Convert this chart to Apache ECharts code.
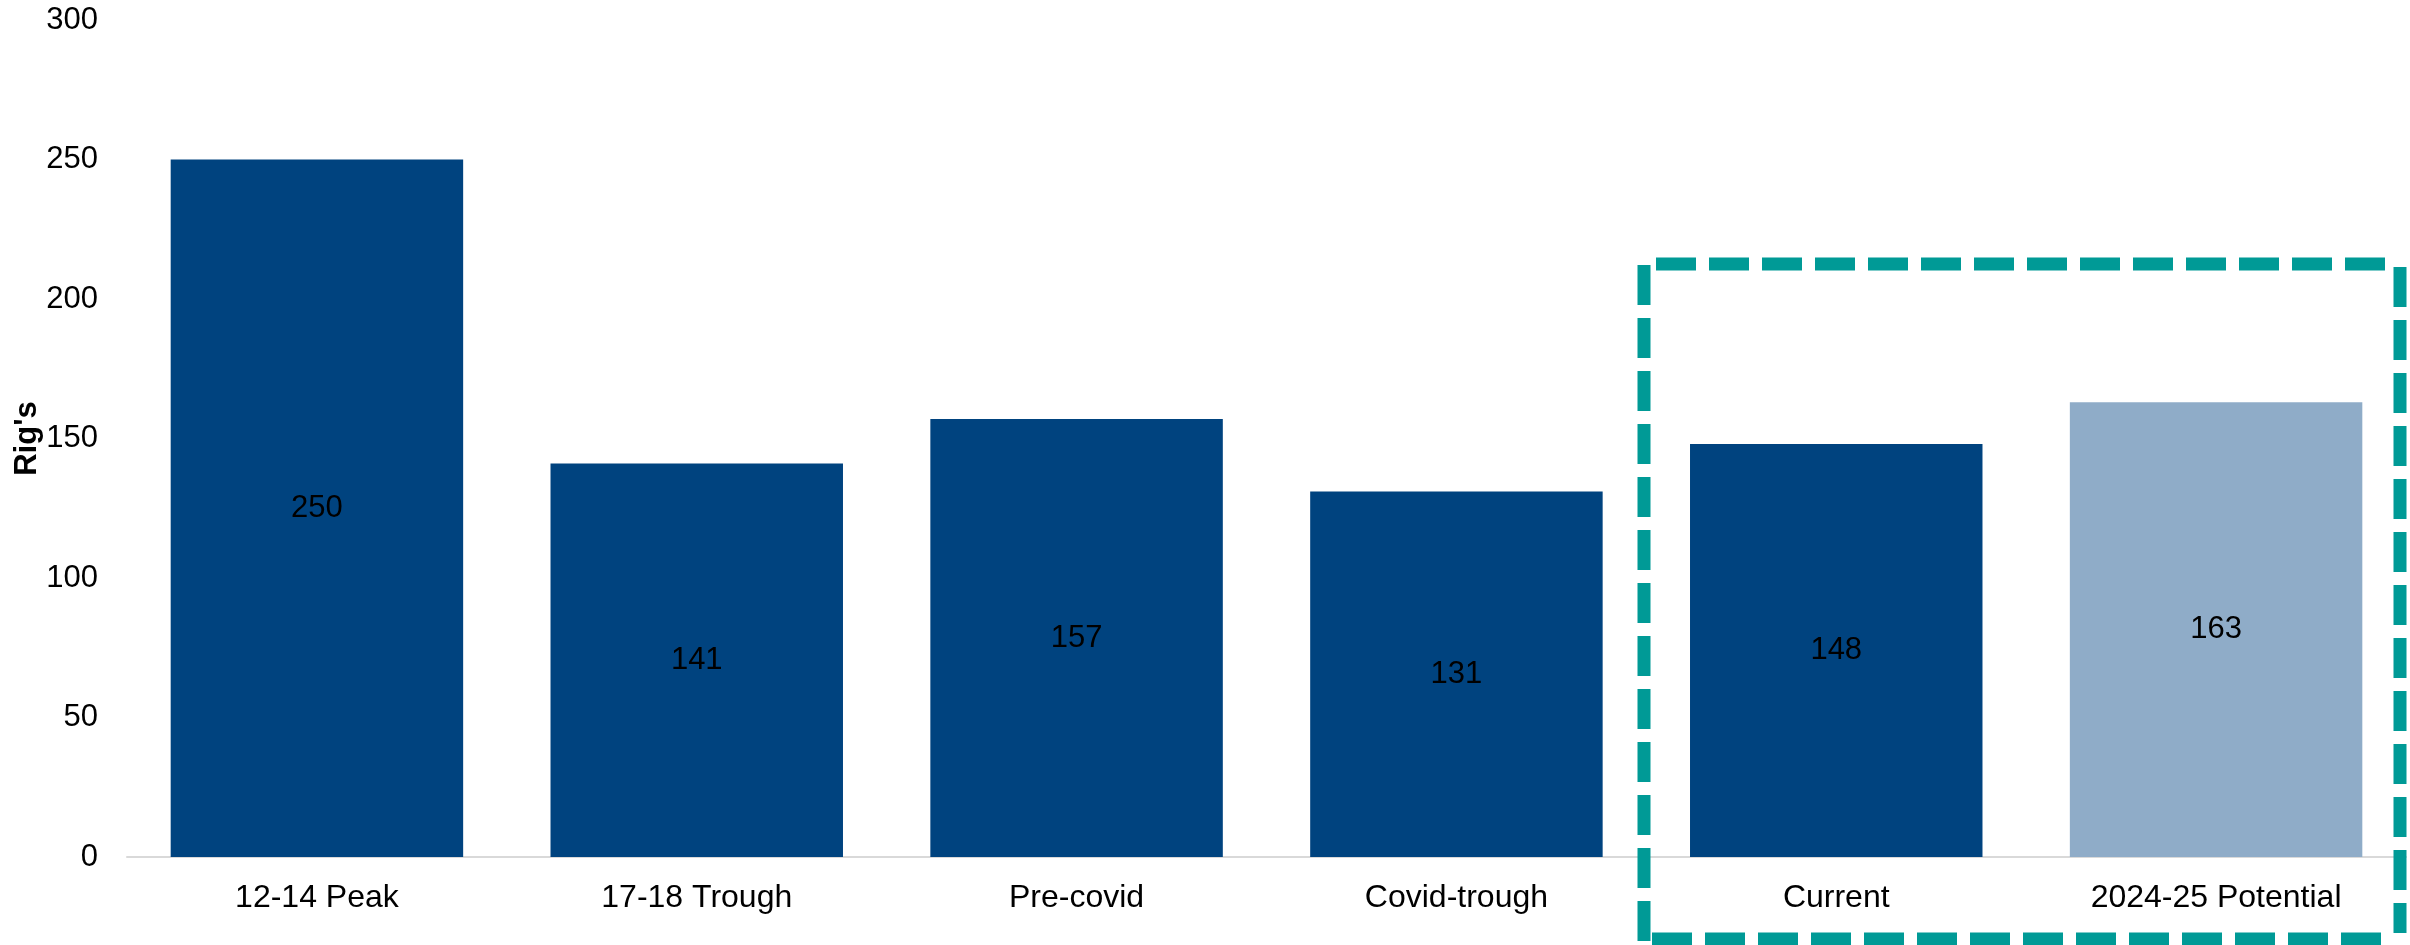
<!DOCTYPE html>
<html>
<head>
<meta charset="utf-8">
<script src="https://cdn.jsdelivr.net/npm/echarts@6/dist/echarts.min.js"></script>
<style>
html,body{margin:0;padding:0;background:#fff;}
#chart{width:2410px;height:945px;}
</style>
</head>
<body>
<div id="chart"></div>
<script>
var categories = ['12-14 Peak', '17-18 Trough', 'Pre-covid', 'Covid-trough', 'Current', '2024-25 Potential'];
var rigValues = [250, 141, 157, 131, 148, 163];
var barColors = ['#00437F', '#00437F', '#00437F', '#00437F', '#00437F', '#8FACC8'];
var yTicks = { min: 0, max: 300, interval: 50 };

var FONT = 'Liberation Sans, Arial, sans-serif';
var chart = echarts.init(document.getElementById('chart'), null, { renderer: 'canvas' });

var option = {
  animation: false,
  backgroundColor: '#ffffff',
  grid: { left: 127, right: 4, top: 20, bottom: 88, containLabel: false },
  xAxis: {
    type: 'category',
    data: categories,
    axisLine: { show: true, lineStyle: { color: '#D9D9D9', width: 2 } },
    axisTick: { show: false },
    axisLabel: { color: '#000', fontSize: 32, fontFamily: FONT, margin: 25 },
    splitLine: { show: false }
  },
  yAxis: {
    type: 'value',
    min: yTicks.min,
    max: yTicks.max,
    interval: yTicks.interval,
    name: "Rig's",
    nameLocation: 'middle',
    nameGap: 84,
    nameMoveOverlap: false,
    nameTextStyle: { color: '#000', fontSize: 31, fontWeight: 'bold', fontFamily: FONT },
    axisLine: { show: false },
    axisTick: { show: false },
    splitLine: { show: false },
    axisLabel: { color: '#000', fontSize: 31, fontFamily: FONT, margin: 29 }
  },
  series: [{
    type: 'bar',
    data: rigValues.map(function (v, i) { return { value: v, itemStyle: { color: barColors[i] } }; }),
    barCategoryGap: '23%',
    label: { show: true, position: 'inside', color: '#000', fontSize: 31, fontFamily: FONT }
  }]
};
chart.setOption(option);

// dashed highlight box around the last two categories (each side drawn separately)
var boxStyle = { stroke: '#009A96', lineWidth: 13, lineDash: [40, 13], lineCap: 'butt' };
chart.setOption({
  graphic: [
    { type: 'line', z: 100, shape: { x1: 1656, y1: 264, x2: 2390, y2: 264 }, style: boxStyle },
    { type: 'line', z: 100, shape: { x1: 1644, y1: 265, x2: 1644, y2: 945 }, style: boxStyle },
    { type: 'line', z: 100, shape: { x1: 2400, y1: 267, x2: 2400, y2: 933 }, style: boxStyle },
    { type: 'line', z: 100, shape: { x1: 1652, y1: 939, x2: 2394, y2: 939 }, style: boxStyle }
  ]
});
</script>
</body>
</html>
